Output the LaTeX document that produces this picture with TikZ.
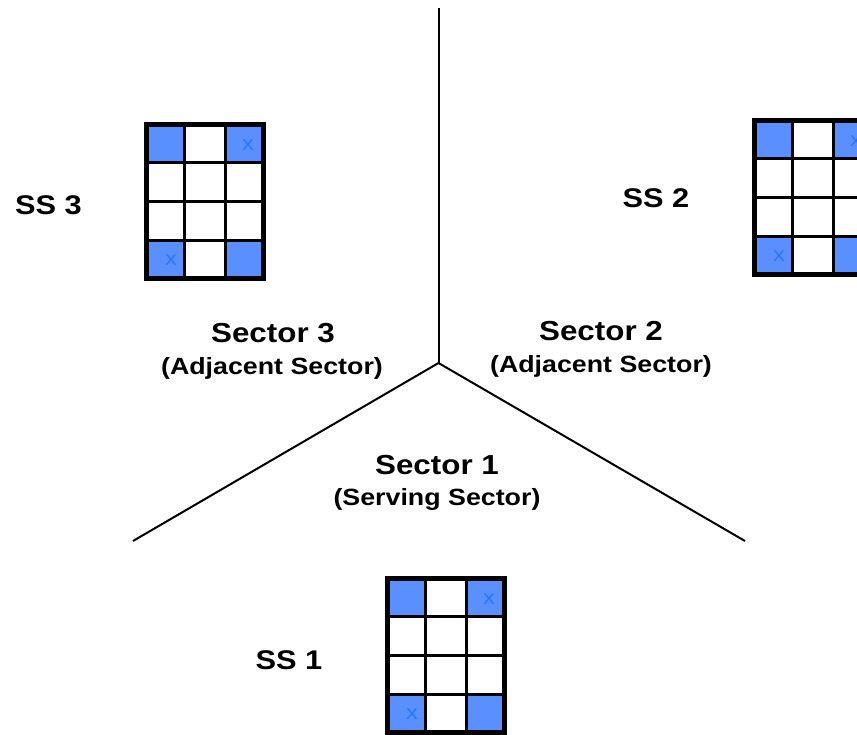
\documentclass[tikz,border=0pt]{standalone}
\usepackage{graphicx}
\usepackage{fontspec}
\setmainfont{Liberation Sans}
\definecolor{cellblue}{RGB}{90,143,255}
\definecolor{xblue}{RGB}{30,115,255}
\newcommand{\wide}[1]{\scalebox{1.14}[1]{#1}}
\tikzset{
  x=1pt,y=-1pt,
  sectorline/.style={line width=2pt,black},
  sslabel/.style={font=\bfseries\fontsize{27}{29}\selectfont},
  sectitle/.style={font=\bfseries\fontsize{27.5}{29}\selectfont},
  secsub/.style={font=\bfseries\fontsize{23.5}{25}\selectfont},
  xmark/.style={font=\fontsize{15.5}{16}\selectfont,text=xblue,inner sep=0pt},
  pics/slotgrid/.style={code={
    \fill[cellblue] (0,0) rectangle (40.7,40);
    \fill[cellblue] (81.3,0) rectangle (122,40);
    \fill[cellblue] (0,119) rectangle (40.7,159);
    \fill[cellblue] (81.3,119) rectangle (122,159);
    \draw[line width=2.6pt] (40.7,0) -- (40.7,159) (81.3,0) -- (81.3,159)
       (0,40.5) -- (122,40.5) (0,79.5) -- (122,79.5) (0,118.5) -- (122,118.5);
    \draw[line width=5pt] (2.5,2.5) rectangle (119.5,156.5);
    \node[xmark] (-xa) at (104,23) {\wide{X}};
    \node[xmark] (-xb) at (27,138) {\wide{X}};
  }}
}
\begin{document}
\begin{tikzpicture}
\useasboundingbox (0,0) rectangle (857,735);
\clip (0,0) rectangle (857,735);
\coordinate (c) at (438.5,363);
\coordinate (top) at (438.5,8);
\coordinate (l) at (133,541);
\coordinate (r) at (745,541);
\draw[sectorline] (top) -- (c);
\draw[sectorline] (c) -- (l);
\draw[sectorline] (c) -- (r);
\pic (g3) at (144,122) {slotgrid};
\pic (g2) at (752,118) {slotgrid};
\pic (g1) at (385,576) {slotgrid};
\node[sslabel] (ss3) at (48.5,205) {\wide{SS 3}};
\node[sslabel] (ss2) at (656,198) {\wide{SS 2}};
\node[sslabel] (ss1) at (289,660) {\wide{SS 1}};
\node[sectitle] (s3) at (273,333) {\wide{Sector 3}};
\node[secsub] (s3b) at (272,368) {\wide{(Adjacent Sector)}};
\node[sectitle] (s2) at (601,331) {\wide{Sector 2}};
\node[secsub] (s2b) at (601,366) {\wide{(Adjacent Sector)}};
\node[sectitle] (s1) at (437,465) {\wide{Sector 1}};
\node[secsub] (s1b) at (437,499) {\wide{(Serving Sector)}};
\end{tikzpicture}
\end{document}
